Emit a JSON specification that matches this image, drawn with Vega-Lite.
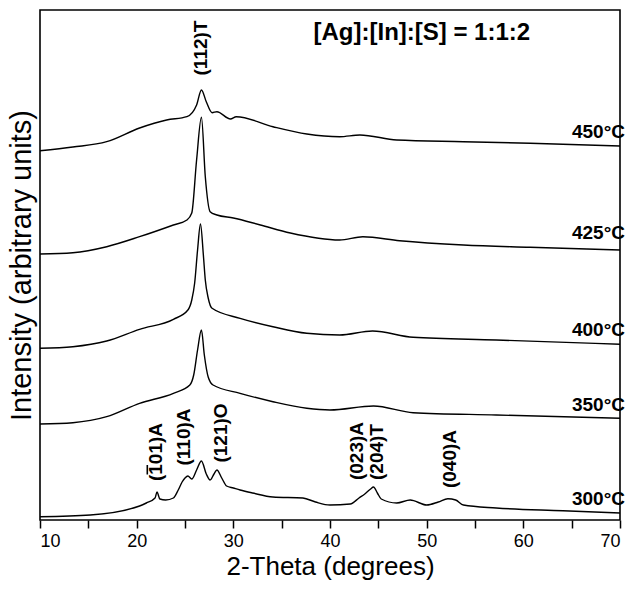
{
  "$schema": "https://vega.github.io/schema/vega-lite/v6.json",
  "width": 580,
  "height": 510,
  "autosize": "none",
  "padding": {"left": 40, "top": 10, "right": 14, "bottom": 69},
  "background": "white",
  "config": {"view": {"stroke": "black", "strokeWidth": 1.6}, "font": "Liberation Sans"},
  "datasets": {
    "curves": [
      {"s": "300", "t": 10, "i": 3.3}, {"s": "300", "t": 15.2, "i": 5}, {"s": "300", "t": 20.3, "i": 14}, {"s": "300", "t": 21.0, "i": 17},
      {"s": "300", "t": 21.9, "i": 22}, {"s": "300", "t": 22.1, "i": 28}, {"s": "300", "t": 22.4, "i": 21}, {"s": "300", "t": 23.0, "i": 20},
      {"s": "300", "t": 23.8, "i": 22}, {"s": "300", "t": 24.3, "i": 30}, {"s": "300", "t": 24.7, "i": 38}, {"s": "300", "t": 25.0, "i": 42},
      {"s": "300", "t": 25.3, "i": 44}, {"s": "300", "t": 25.7, "i": 41}, {"s": "300", "t": 26.2, "i": 50}, {"s": "300", "t": 26.7, "i": 59},
      {"s": "300", "t": 27.2, "i": 46}, {"s": "300", "t": 27.6, "i": 40}, {"s": "300", "t": 28.0, "i": 46}, {"s": "300", "t": 28.3, "i": 50},
      {"s": "300", "t": 28.8, "i": 42}, {"s": "300", "t": 29.3, "i": 34}, {"s": "300", "t": 30.0, "i": 32}, {"s": "300", "t": 30.7, "i": 30},
      {"s": "300", "t": 32.0, "i": 27}, {"s": "300", "t": 34.1, "i": 23}, {"s": "300", "t": 37.2, "i": 22}, {"s": "300", "t": 38.5, "i": 18},
      {"s": "300", "t": 40.0, "i": 15}, {"s": "300", "t": 42.1, "i": 16}, {"s": "300", "t": 43.0, "i": 22}, {"s": "300", "t": 43.6, "i": 26},
      {"s": "300", "t": 44.2, "i": 31}, {"s": "300", "t": 44.5, "i": 33}, {"s": "300", "t": 44.9, "i": 27}, {"s": "300", "t": 45.3, "i": 21},
      {"s": "300", "t": 46.9, "i": 17}, {"s": "300", "t": 48.3, "i": 20}, {"s": "300", "t": 50.0, "i": 15}, {"s": "300", "t": 51.2, "i": 18},
      {"s": "300", "t": 52.2, "i": 21.3}, {"s": "300", "t": 53.0, "i": 20}, {"s": "300", "t": 53.8, "i": 15}, {"s": "300", "t": 57.2, "i": 12},
      {"s": "300", "t": 64.1, "i": 9.3}, {"s": "300", "t": 70, "i": 7},

      {"s": "350", "t": 10, "i": 96}, {"s": "350", "t": 13.4, "i": 97.3}, {"s": "350", "t": 16.9, "i": 103.3}, {"s": "350", "t": 20.3, "i": 116.7},
      {"s": "350", "t": 23.8, "i": 126.7}, {"s": "350", "t": 25.5, "i": 135}, {"s": "350", "t": 25.9, "i": 145}, {"s": "350", "t": 26.3, "i": 170},
      {"s": "350", "t": 26.7, "i": 190}, {"s": "350", "t": 27.0, "i": 165}, {"s": "350", "t": 27.4, "i": 143}, {"s": "350", "t": 27.9, "i": 135},
      {"s": "350", "t": 30.7, "i": 126.7}, {"s": "350", "t": 34.1, "i": 118.3}, {"s": "350", "t": 37.6, "i": 111.7}, {"s": "350", "t": 40, "i": 110},
      {"s": "350", "t": 44.5, "i": 114}, {"s": "350", "t": 48.6, "i": 107.3}, {"s": "350", "t": 57.2, "i": 105}, {"s": "350", "t": 70, "i": 101.7},

      {"s": "400", "t": 10, "i": 171.7}, {"s": "400", "t": 13.4, "i": 173.3}, {"s": "400", "t": 16.9, "i": 179}, {"s": "400", "t": 20.3, "i": 190.7},
      {"s": "400", "t": 23.8, "i": 200.7}, {"s": "400", "t": 25.3, "i": 210}, {"s": "400", "t": 25.7, "i": 220}, {"s": "400", "t": 26.0, "i": 237},
      {"s": "400", "t": 26.3, "i": 270}, {"s": "400", "t": 26.6, "i": 296}, {"s": "400", "t": 26.9, "i": 265}, {"s": "400", "t": 27.1, "i": 240},
      {"s": "400", "t": 27.4, "i": 222}, {"s": "400", "t": 27.8, "i": 211.7}, {"s": "400", "t": 30.7, "i": 201.7}, {"s": "400", "t": 34.1, "i": 193.3},
      {"s": "400", "t": 37.6, "i": 186.7}, {"s": "400", "t": 41, "i": 185}, {"s": "400", "t": 44.4, "i": 189}, {"s": "400", "t": 48.6, "i": 182.7},
      {"s": "400", "t": 57.2, "i": 180}, {"s": "400", "t": 70, "i": 175.7},

      {"s": "425", "t": 10, "i": 266}, {"s": "425", "t": 13.4, "i": 267.3}, {"s": "425", "t": 16.9, "i": 273.3}, {"s": "425", "t": 20.3, "i": 283.3},
      {"s": "425", "t": 23.8, "i": 295}, {"s": "425", "t": 25.2, "i": 300}, {"s": "425", "t": 25.7, "i": 307}, {"s": "425", "t": 26.2, "i": 360},
      {"s": "425", "t": 26.7, "i": 402.7}, {"s": "425", "t": 27.1, "i": 343.3}, {"s": "425", "t": 27.6, "i": 308.3}, {"s": "425", "t": 28.3, "i": 305},
      {"s": "425", "t": 30, "i": 302}, {"s": "425", "t": 32.8, "i": 295}, {"s": "425", "t": 35.9, "i": 287}, {"s": "425", "t": 41, "i": 280},
      {"s": "425", "t": 43.4, "i": 283.3}, {"s": "425", "t": 47.2, "i": 279.3}, {"s": "425", "t": 53.8, "i": 275}, {"s": "425", "t": 60.7, "i": 272.7},
      {"s": "425", "t": 70, "i": 270},

      {"s": "450", "t": 10, "i": 369.3}, {"s": "450", "t": 13.4, "i": 373}, {"s": "450", "t": 16.9, "i": 378.3}, {"s": "450", "t": 20.3, "i": 392},
      {"s": "450", "t": 23.1, "i": 400}, {"s": "450", "t": 25.2, "i": 403.3}, {"s": "450", "t": 26.2, "i": 415}, {"s": "450", "t": 26.7, "i": 430},
      {"s": "450", "t": 27.2, "i": 418.3}, {"s": "450", "t": 27.8, "i": 407.3}, {"s": "450", "t": 28.3, "i": 408.3}, {"s": "450", "t": 29.7, "i": 401},
      {"s": "450", "t": 30.3, "i": 403.3}, {"s": "450", "t": 34.1, "i": 393.3}, {"s": "450", "t": 37.6, "i": 386}, {"s": "450", "t": 41, "i": 383.3},
      {"s": "450", "t": 43.1, "i": 385}, {"s": "450", "t": 46.9, "i": 380}, {"s": "450", "t": 53.8, "i": 378.3}, {"s": "450", "t": 60.7, "i": 376.7},
      {"s": "450", "t": 70, "i": 374}
    ],
    "temps": [
      {"t": 70, "i": 388.5, "label": "450°C"},
      {"t": 70, "i": 287, "label": "425°C"},
      {"t": 70, "i": 190, "label": "400°C"},
      {"t": 70, "i": 115, "label": "350°C"},
      {"t": 70, "i": 21, "label": "300°C"}
    ],
    "peaks": [
      {"t": 26.65, "i": 472, "label": "(112)T"},
      {"t": 22.0, "i": 68, "label": "(101)A"},
      {"t": 24.9, "i": 83, "label": "(110)A"},
      {"t": 28.7, "i": 87, "label": "(121)O"},
      {"t": 42.8, "i": 69, "label": "(023)A"},
      {"t": 44.9, "i": 68, "label": "(204)T"},
      {"t": 52.4, "i": 61, "label": "(040)A"}
    ],
    "bar": [
      {"t": 21.1, "i": 45.5, "i2": 55}
    ],
    "heading": [
      {"t": 49.5, "i": 487, "label": "[Ag]:[In]:[S] = 1:1:2"}
    ]
  },
  "layer": [
    {
      "data": {"name": "curves"},
      "mark": {"type": "line", "color": "black", "strokeWidth": 1.4, "interpolate": "monotone"},
      "encoding": {
        "x": {
          "field": "t", "type": "quantitative",
          "scale": {"domain": [10, 70], "nice": false, "zero": false},
          "axis": {
            "title": "2-Theta (degrees)",
            "values": [10, 15, 20, 25, 30, 35, 40, 45, 50, 55, 60, 65, 70],
            "labelExpr": "datum.value % 10 === 0 ? datum.label : ''",
            "grid": false, "domain": false,
            "tickSize": 8, "tickColor": "black", "tickWidth": 1.5,
            "labelFontSize": 18, "labelColor": "black", "labelPadding": 4,
            "titleFontSize": 26, "titleFontWeight": "normal", "titleColor": "black", "titlePadding": 3,
            "encode": {"ticks": {"update": {"y2": {"signal": "datum.value % 10 === 0 ? 8 : 4"}}}}
          }
        },
        "y": {
          "field": "i", "type": "quantitative",
          "scale": {"domain": [0, 510], "nice": false, "zero": false},
          "axis": {
            "title": "Intensity (arbitrary units)",
            "labels": false, "ticks": false, "domain": false, "grid": false,
            "titleFontSize": 29, "titleFontWeight": "normal", "titleColor": "black", "titlePadding": 4
          }
        },
        "detail": {"field": "s"}
      }
    },
    {
      "data": {"name": "bar"},
      "mark": {"type": "rule", "color": "black", "strokeWidth": 1.6},
      "encoding": {
        "x": {"field": "t", "type": "quantitative"},
        "y": {"field": "i", "type": "quantitative"},
        "y2": {"field": "i2"}
      }
    },
    {
      "data": {"name": "temps"},
      "mark": {"type": "text", "align": "right", "baseline": "middle", "dx": 5, "fontSize": 19, "fontWeight": "bold", "color": "black"},
      "encoding": {
        "x": {"field": "t", "type": "quantitative"},
        "y": {"field": "i", "type": "quantitative"},
        "text": {"field": "label"}
      }
    },
    {
      "data": {"name": "peaks"},
      "mark": {"type": "text", "align": "center", "baseline": "middle", "angle": 270, "fontSize": 19, "fontWeight": "bold", "color": "black"},
      "encoding": {
        "x": {"field": "t", "type": "quantitative"},
        "y": {"field": "i", "type": "quantitative"},
        "text": {"field": "label"}
      }
    },
    {
      "data": {"name": "heading"},
      "mark": {"type": "text", "align": "center", "baseline": "middle", "fontSize": 24, "fontWeight": "bold", "color": "black"},
      "encoding": {
        "x": {"field": "t", "type": "quantitative"},
        "y": {"field": "i", "type": "quantitative"},
        "text": {"field": "label"}
      }
    }
  ]
}
